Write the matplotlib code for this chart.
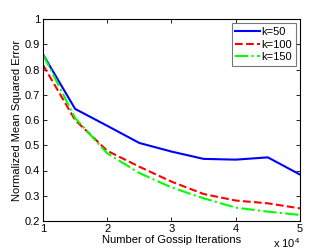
import numpy as np
import matplotlib
matplotlib.use("Agg")
import matplotlib.pyplot as plt

plt.rcParams['font.family'] = ['Liberation Sans', 'DejaVu Sans']
plt.rcParams['mathtext.fontset'] = 'custom'
plt.rcParams['mathtext.rm'] = 'Liberation Sans'

# gossip iterations
iters = [10000, 15000, 20000, 25000, 30000, 35000, 40000, 45000, 50000]

# normalized MSE
mse_k50 = [0.860, 0.644, 0.577, 0.509, 0.475, 0.446, 0.443, 0.452, 0.384]
mse_k100 = [0.818, 0.600, 0.478, 0.415, 0.356, 0.307, 0.281, 0.270, 0.250]
mse_k150 = [0.860, 0.608, 0.468, 0.390, 0.333, 0.290, 0.253, 0.237, 0.224]

xticks = [10000, 20000, 30000, 40000, 50000]
xticklabels = ['1', '2', '3', '4', '5']
yticks = [0.2, 0.3, 0.4, 0.5, 0.6, 0.7, 0.8, 0.9, 1.0]
yticklabels = ['0.2', '0.3', '0.4', '0.5', '0.6', '0.7', '0.8', '0.9', '1']

fig = plt.figure(figsize=(3.32, 2.5), dpi=100)
ax = fig.add_axes([0.1295, 0.116, 0.774, 0.808])

ax.plot(iters, mse_k50, color='#0000ff', lw=1.5, ls='-', label='k=50')
ax.plot(iters, mse_k100, color='#ff0000', lw=1.5, ls='--', label='k=100')
ax.plot(iters, mse_k150, color='#00ff00', lw=1.5, ls='-.', label='k=150')

ax.set_xlim(10000, 50000)
ax.set_ylim(0.2, 1.0)
ax.set_xticks(xticks)
ax.set_xticklabels(xticklabels)
ax.set_yticks(yticks)
ax.set_yticklabels(yticklabels)
ax.tick_params(direction='in', top=True, right=True, labelsize=8, length=3, width=0.6, pad=2)
for s in ax.spines.values():
    s.set_linewidth(0.8)

ax.set_xlabel('Number of Gossip Iterations', fontsize=8, labelpad=1)
ax.set_ylabel('Normalized Mean Squared Error', fontsize=8, labelpad=2)
fig.text(0.905, 0.002, 'x 10$^4$', fontsize=8, ha='right', va='bottom')

leg = ax.legend(loc='upper right', fontsize=8, frameon=True, fancybox=False,
                handlelength=2.3, handletextpad=0.1, borderpad=0.3,
                labelspacing=0.25, borderaxespad=0.4)
leg.get_frame().set_edgecolor('#555555')
leg.get_frame().set_linewidth(0.8)

fig.savefig('out.png', dpi=100)
